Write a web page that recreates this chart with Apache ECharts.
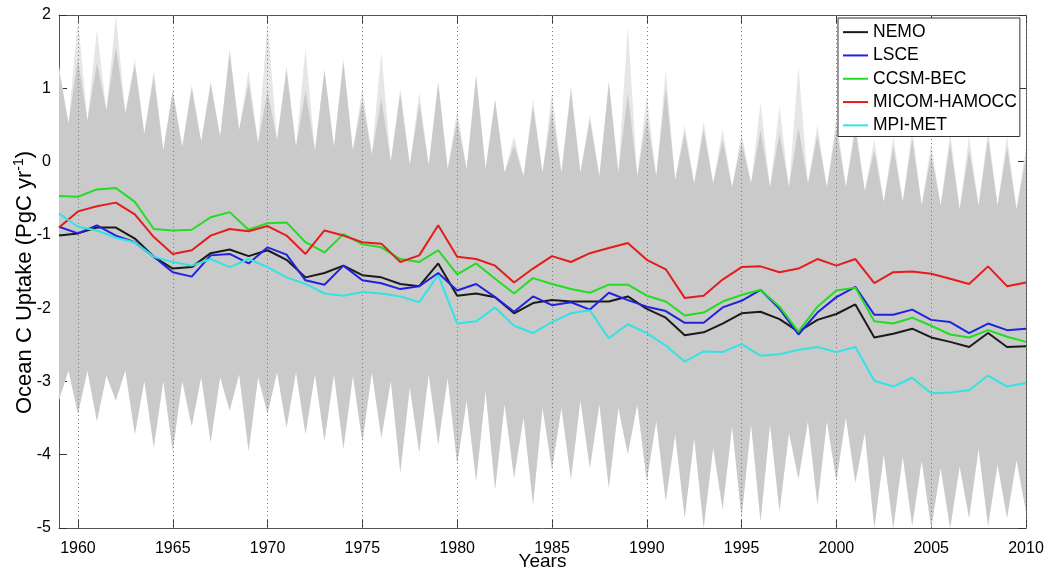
<!DOCTYPE html>
<html><head><meta charset="utf-8">
<script src="https://cdn.jsdelivr.net/npm/echarts@6/dist/echarts.min.js"></script>
<style>html,body{margin:0;padding:0;background:#fff}#c{width:1050px;height:571px}</style>
</head><body><div id="c"></div>
<script>
// ---------- DATA ----------
const years = [1959,1960,1961,1962,1963,1964,1965,1966,1967,1968,1969,1970,1971,1972,1973,1974,1975,1976,1977,1978,1979,1980,1981,1982,1983,1984,1985,1986,1987,1988,1989,1990,1991,1992,1993,1994,1995,1996,1997,1998,1999,2000,2001,2002,2003,2004,2005,2006,2007,2008,2009,2010];
const xTickLabels = [1960,1965,1970,1975,1980,1985,1990,1995,2000,2005,2010];

const nemo = [-1.01,-0.98,-0.90,-0.90,-1.05,-1.30,-1.46,-1.44,-1.25,-1.20,-1.29,-1.21,-1.34,-1.58,-1.52,-1.42,-1.55,-1.58,-1.67,-1.70,-1.39,-1.83,-1.80,-1.85,-2.07,-1.93,-1.89,-1.91,-1.91,-1.91,-1.84,-2.01,-2.13,-2.37,-2.33,-2.21,-2.07,-2.05,-2.15,-2.32,-2.16,-2.08,-1.95,-2.40,-2.35,-2.28,-2.40,-2.46,-2.53,-2.34,-2.53,-2.52];
const lsce = [-0.89,-0.98,-0.87,-1.01,-1.10,-1.30,-1.51,-1.57,-1.28,-1.26,-1.39,-1.17,-1.27,-1.62,-1.68,-1.42,-1.62,-1.66,-1.74,-1.70,-1.52,-1.76,-1.67,-1.85,-2.05,-1.84,-1.96,-1.92,-2.02,-1.79,-1.89,-1.98,-2.04,-2.20,-2.20,-1.99,-1.90,-1.75,-2.01,-2.36,-2.06,-1.85,-1.71,-2.09,-2.09,-2.02,-2.16,-2.19,-2.34,-2.21,-2.30,-2.28];
const ccsm = [-0.47,-0.48,-0.38,-0.36,-0.55,-0.92,-0.94,-0.93,-0.76,-0.69,-0.93,-0.84,-0.83,-1.10,-1.24,-0.99,-1.13,-1.17,-1.33,-1.37,-1.21,-1.54,-1.39,-1.60,-1.80,-1.59,-1.67,-1.74,-1.79,-1.68,-1.68,-1.83,-1.91,-2.10,-2.06,-1.91,-1.82,-1.75,-1.98,-2.32,-1.98,-1.76,-1.72,-2.18,-2.21,-2.13,-2.24,-2.36,-2.40,-2.30,-2.39,-2.46];
const micom = [-0.90,-0.68,-0.61,-0.56,-0.72,-1.03,-1.26,-1.21,-1.01,-0.92,-0.95,-0.88,-1.01,-1.26,-0.94,-1.01,-1.10,-1.12,-1.37,-1.28,-0.87,-1.30,-1.33,-1.42,-1.65,-1.46,-1.29,-1.37,-1.25,-1.18,-1.11,-1.34,-1.47,-1.86,-1.83,-1.61,-1.44,-1.43,-1.51,-1.46,-1.33,-1.42,-1.33,-1.66,-1.51,-1.50,-1.53,-1.60,-1.67,-1.43,-1.70,-1.65];
const mpi = [-0.71,-0.89,-0.94,-1.04,-1.10,-1.30,-1.37,-1.42,-1.33,-1.44,-1.33,-1.44,-1.58,-1.67,-1.80,-1.83,-1.78,-1.80,-1.84,-1.92,-1.55,-2.21,-2.18,-1.99,-2.24,-2.34,-2.19,-2.07,-2.03,-2.41,-2.22,-2.34,-2.51,-2.73,-2.59,-2.60,-2.49,-2.65,-2.63,-2.57,-2.53,-2.60,-2.53,-2.99,-3.07,-2.95,-3.16,-3.15,-3.12,-2.92,-3.07,-3.02];

// grey ensemble envelope: values at each year and at each half-year (year+0.5)
const bandTopYear = [1.25,1.40,1.35,1.57,1.32,1.16,0.95,1.00,1.06,1.48,1.07,0.97,1.25,0.97,1.25,1.36,0.84,0.86,0.93,0.79,1.07,0.56,1.16,0.84,0.22,0.75,0.70,0.97,0.56,1.07,0.93,0.60,1.00,0.39,0.43,0.29,0.27,0.43,0.39,0.47,0.36,0.45,0.43,0.15,0.20,0.30,0.10,0.25,0.15,0.30,0.20,0.05];
const bandTopHalf = [0.52,0.56,0.70,0.66,0.38,0.15,0.20,0.27,0.34,0.43,0.25,0.29,0.20,0.15,0.20,0.15,0.10,0.00,-0.05,-0.05,-0.10,-0.10,-0.10,-0.15,-0.20,-0.15,-0.15,-0.15,-0.20,-0.15,-0.20,-0.20,-0.25,-0.30,-0.30,-0.35,-0.30,-0.35,-0.35,-0.30,-0.35,-0.35,-0.40,-0.55,-0.55,-0.60,-0.60,-0.65,-0.60,-0.60,-0.65];
const bandLowYear = [-3.25,-3.44,-3.54,-3.26,-3.72,-3.90,-3.95,-3.61,-3.83,-3.40,-3.95,-3.44,-3.63,-3.72,-3.81,-3.92,-3.83,-3.77,-4.24,-3.97,-3.86,-4.13,-4.36,-4.47,-4.31,-4.68,-4.20,-4.33,-4.18,-4.45,-3.99,-4.36,-4.63,-4.86,-5.00,-4.74,-4.86,-4.91,-4.77,-4.33,-4.68,-4.36,-4.38,-5.00,-5.00,-4.97,-5.00,-5.00,-4.86,-4.97,-4.86,-4.77];
const bandLowHalf = [-2.85,-2.85,-2.92,-2.85,-2.99,-2.99,-2.99,-2.94,-2.94,-2.90,-2.94,-2.87,-2.87,-2.90,-2.90,-2.92,-2.87,-2.99,-3.08,-2.90,-2.95,-3.26,-3.13,-3.31,-3.49,-3.36,-3.36,-3.26,-3.31,-3.36,-3.31,-3.54,-3.72,-3.77,-3.90,-3.61,-3.58,-3.58,-3.70,-3.54,-3.54,-3.49,-3.70,-3.99,-4.02,-4.08,-4.18,-4.16,-3.92,-4.13,-4.08];
// faint outlying ensemble members above the dense band (peak values at each year)
const outerTopYear = [1.30,1.95,1.80,2.00,1.40,1.25,1.00,1.05,1.10,1.55,1.25,1.90,1.30,1.55,1.25,1.40,1.00,1.50,1.00,0.95,1.10,0.70,1.20,0.85,0.35,0.85,0.95,1.05,0.65,1.10,1.85,0.90,1.25,0.50,0.55,0.45,0.40,0.80,0.75,1.30,0.50,0.60,0.55,0.30,0.35,0.45,0.25,0.40,0.35,0.45,0.35,0.20];

// ---------- BUILD ----------
function envelope(atYear, atHalf) {
  const out = [];
  for (let i = 0; i < years.length; i++) {
    out.push([years[i], atYear[i]]);
    if (i < atHalf.length) out.push([years[i] + 0.5, atHalf[i]]);
  }
  return out;
}
const lowPts = envelope(bandLowYear, bandLowHalf);
const topPts = envelope(bandTopYear, bandTopHalf);
const outerPts = envelope(outerTopYear, bandTopHalf);

const FONT = "'Liberation Sans', Arial, sans-serif";
const models = [
  {name: 'NEMO', data: nemo, color: '#1a1a1a'},
  {name: 'LSCE', data: lsce, color: '#2222dd'},
  {name: 'CCSM-BEC', data: ccsm, color: '#22dd22'},
  {name: 'MICOM-HAMOCC', data: micom, color: '#e41c1c'},
  {name: 'MPI-MET', data: mpi, color: '#33e3e3'}
];

function polygonSeries(name, upper, lower, fill, z) {
  return {
    type: 'custom', name: name, coordinateSystem: 'cartesian2d', xAxisIndex: 0, yAxisIndex: 0,
    data: [[years[0], 0]], silent: true, z: z, clip: true,
    renderItem: function (params, api) {
      const pts = upper.map(p => api.coord(p)).concat(lower.slice().reverse().map(p => api.coord(p)));
      return {type: 'polygon', shape: {points: pts}, style: {fill: fill, stroke: null}};
    }
  };
}

const series = [
  polygonSeries('ensembleOuter', outerPts, lowPts, '#e6e6e6', 1),
  polygonSeries('ensemble', topPts, lowPts, '#cacaca', 2)
];
models.forEach((m, k) => {
  const s = {
    type: 'line', name: m.name, data: years.map((y, i) => [y, m.data[i]]),
    symbol: 'none', showSymbol: false, lineStyle: {width: 2, color: m.color}, itemStyle: {color: m.color}, z: 6
  };
  if (k === 0) {
    s.markLine = {silent: true, symbol: ['none', 'none'], label: {show: false}, z: 3,
      lineStyle: {type: [1, 3], color: '#777', width: 1},
      data: xTickLabels.map(v => ({xAxis: v}))};
  }
  series.push(s);
});

const chart = echarts.init(document.getElementById('c'), null, {renderer: 'canvas'});
chart.setOption({
  animation: false,
  backgroundColor: '#fff',
  textStyle: {fontFamily: FONT},
  grid: {left: 59, right: 24, top: 15, bottom: 43, containLabel: false, outerBoundsMode: 'none'},
  legend: {
    data: models.map(m => m.name), orient: 'vertical', left: 838, top: 18, z: 10,
    backgroundColor: '#fff', borderColor: '#333', borderWidth: 1, borderRadius: 0,
    padding: [5, 3, 2, 5], itemWidth: 25, itemHeight: 2, itemGap: 5, icon: 'rect',
    textStyle: {fontSize: 17.5, color: '#000', fontFamily: FONT, lineHeight: 18.3},
    selectedMode: false
  },
  xAxis: [{
    type: 'value', min: 1959, max: 2010, position: 'bottom',
    name: 'Years', nameLocation: 'middle', nameGap: 24, nameMoveOverlap: false,
    nameTextStyle: {fontSize: 19, color: '#000', fontFamily: FONT},
    axisLine: {show: true, onZero: false, lineStyle: {color: '#555', width: 1}},
    axisTick: {show: true, inside: true, length: 8, customValues: xTickLabels, lineStyle: {color: '#333'}},
    axisLabel: {show: true, customValues: xTickLabels, formatter: v => String(v), fontSize: 16, color: '#000', margin: 13, fontFamily: FONT},
    splitLine: {show: false}
  }, {
    type: 'value', min: 1959, max: 2010, position: 'top',
    axisLine: {show: true, onZero: false, lineStyle: {color: '#555', width: 1}},
    axisTick: {show: true, inside: true, length: 8, customValues: xTickLabels, lineStyle: {color: '#333'}},
    axisLabel: {show: false}, splitLine: {show: false}
  }],
  yAxis: [{
    type: 'value', min: -5, max: 2, interval: 1, position: 'left',
    name: '{a|Ocean C Uptake (PgC yr}{b|-1}{a|)}', nameLocation: 'middle', nameGap: 21, nameRotate: 90, nameMoveOverlap: false,
    nameTextStyle: {color: '#000', fontFamily: FONT, padding: [0, 22, 0, 0],
      rich: {a: {fontSize: 22, fontFamily: FONT, color: '#000', lineHeight: 26},
             b: {fontSize: 14, fontFamily: FONT, color: '#000', lineHeight: 26, verticalAlign: 'top', padding: [0, 0, 9, 0]}}},
    axisLine: {show: true, onZero: false, lineStyle: {color: '#555', width: 1}},
    axisTick: {show: true, inside: true, length: 8, lineStyle: {color: '#333'}},
    axisLabel: {fontSize: 16, color: '#000', margin: 8, fontFamily: FONT},
    splitLine: {show: false}
  }, {
    type: 'value', min: -5, max: 2, interval: 1, position: 'right',
    axisLine: {show: true, onZero: false, lineStyle: {color: '#555', width: 1}},
    axisTick: {show: true, inside: true, length: 8, lineStyle: {color: '#333'}},
    axisLabel: {show: false}, splitLine: {show: false}
  }],
  series: series
});
</script>
</body></html>
